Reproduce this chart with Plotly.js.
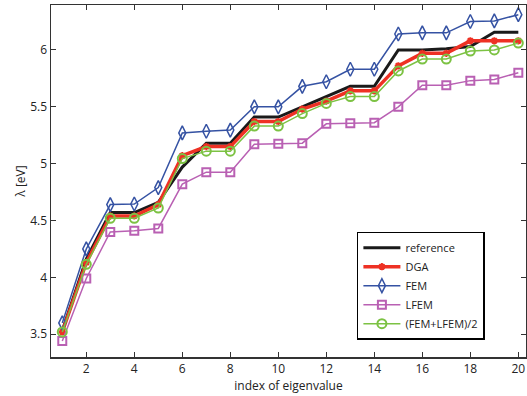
<!DOCTYPE html>
<html>
<head>
<meta charset="utf-8">
<script src="https://cdn.plot.ly/plotly-3.0.1.min.js"></script>
<style>html,body{margin:0;padding:0;background:#fff;}#chart{width:527px;height:396px;}</style>
</head>
<body>
<div id="chart"></div>
<script>
const idx = [1,2,3,4,5,6,7,8,9,10,11,12,13,14,15,16,17,18,19,20];
const reference = [3.53,4.16,4.57,4.57,4.66,4.97,5.18,5.18,5.41,5.41,5.50,5.59,5.68,5.68,6.00,6.00,6.01,6.03,6.155,6.155];
const dga =       [3.52,4.13,4.54,4.54,4.64,5.07,5.15,5.15,5.37,5.37,5.48,5.55,5.64,5.64,5.86,5.97,5.97,6.08,6.08,6.08];
const fem =       [3.60,4.25,4.64,4.645,4.79,5.27,5.285,5.295,5.50,5.50,5.68,5.72,5.83,5.83,6.14,6.15,6.15,6.25,6.255,6.31];
const lfem =      [3.44,3.99,4.40,4.41,4.43,4.82,4.925,4.925,5.17,5.175,5.18,5.35,5.355,5.36,5.50,5.69,5.69,5.73,5.74,5.80];
const avg =       [3.52,4.115,4.52,4.52,4.61,5.045,5.11,5.11,5.33,5.33,5.44,5.53,5.59,5.59,5.815,5.92,5.92,5.99,6.00,6.06];
const names = ['reference','DGA','FEM','LFEM','(FEM+LFEM)/2'];
const xTicks = [2,4,6,8,10,12,14,16,18,20];
const yTicks = [3.5,4,4.5,5,5.5,6];

const cBlack = '#1a1a1a', cRed = '#ee3124', cBlue = '#3552a3', cPurple = '#b960b3', cGreen = '#7cc243';
const traces = [
  {x: idx, y: reference, name: names[0], mode: 'lines', line: {color: cBlack, width: 3}},
  {x: idx, y: dga, name: names[1], mode: 'lines+markers', line: {color: cRed, width: 3.5},
   marker: {symbol: 'asterisk-open', size: 6, color: cRed, line: {color: cRed, width: 2}}},
  {x: idx, y: fem, name: names[2], mode: 'lines+markers', line: {color: cBlue, width: 1.5},
   marker: {symbol: 'diamond-tall-open', size: 10, color: cBlue, line: {color: cBlue, width: 1.5}}},
  {x: idx, y: lfem, name: names[3], mode: 'lines+markers', line: {color: cPurple, width: 1.5},
   marker: {symbol: 'square-open', size: 8, color: cPurple, line: {color: cPurple, width: 2}}},
  {x: idx, y: avg, name: names[4], mode: 'lines+markers', line: {color: cGreen, width: 1.5},
   marker: {symbol: 'circle-open', size: 9, color: cGreen, line: {color: cGreen, width: 2}}}
];
const axisCommon = {
  showgrid: false, zeroline: false, showline: true, linecolor: '#333', linewidth: 1.5,
  mirror: 'allticks', ticks: 'inside', ticklen: 5, tickwidth: 1, tickcolor: '#333',
  tickfont: {family: 'Open Sans, sans-serif', size: 12, color: '#222'}
};
const layout = {
  width: 527, height: 396,
  margin: {l: 51, r: 1, t: 5, b: 39},
  paper_bgcolor: '#fff', plot_bgcolor: '#fff',
  font: {family: 'Open Sans, sans-serif', size: 12, color: '#222'},
  xaxis: Object.assign({}, axisCommon, {range: [0.53, 20.32], tickvals: xTicks, ticktext: xTicks.map(String),
    title: {text: 'index of eigenvalue', font: {size: 12}, standoff: 4}}),
  yaxis: Object.assign({}, axisCommon, {range: [3.3, 6.395], tickvals: yTicks, ticktext: yTicks.map(String),
    title: {text: 'λ [eV]', font: {size: 12}, standoff: 2}}),
  showlegend: true,
  legend: {x: 0.644, y: 0.356, xanchor: 'left', yanchor: 'top', bgcolor: '#fff',
    bordercolor: '#000', borderwidth: 1.5, itemwidth: 37, font: {size: 11, color: '#222'},
    tracegroupgap: 0}
};
Plotly.newPlot('chart', traces, layout, {staticPlot: true, displayModeBar: false});
</script>
</body>
</html>
